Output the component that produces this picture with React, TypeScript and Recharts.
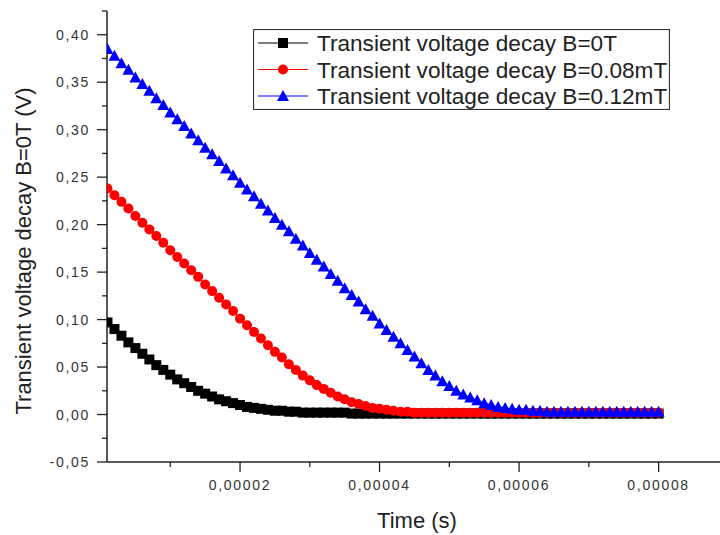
import { LineChart, Line, XAxis, YAxis, Legend } from 'recharts'

// time in microseconds
const TIME_US = [
  1, 2, 3, 4, 5, 6, 7, 8, 9, 10, 11, 12, 13, 14, 15, 16, 17, 18, 19, 20,
  21, 22, 23, 24, 25, 26, 27, 28, 29, 30, 31, 32, 33, 34, 35, 36, 37, 38, 39, 40,
  41, 42, 43, 44, 45, 46, 47, 48, 49, 50, 51, 52, 53, 54, 55, 56, 57, 58, 59, 60,
  61, 62, 63, 64, 65, 66, 67, 68, 69, 70, 71, 72, 73, 74, 75, 76, 77, 78, 79, 80,
]

const DECAY_0T = [
  0.097, 0.09, 0.083, 0.076, 0.07, 0.064, 0.058, 0.052, 0.047, 0.042,
  0.037, 0.033, 0.029, 0.025, 0.022, 0.019, 0.016, 0.014, 0.012, 0.01,
  0.008, 0.007, 0.006, 0.005, 0.004, 0.004, 0.003, 0.003, 0.002, 0.002,
  0.002, 0.002, 0.002, 0.002, 0.002, 0.001, 0.001, 0.001, 0.001, 0.001,
  0.001, 0.001, 0.001, 0.001, 0.001, 0.001, 0.001, 0.001, 0.001, 0.001,
  0.001, 0.001, 0.001, 0.001, 0.001, 0.001, 0.001, 0.001, 0.001, 0.001,
  0.001, 0.001, 0.001, 0.001, 0.001, 0.001, 0.001, 0.001, 0.001, 0.001,
  0.001, 0.001, 0.001, 0.001, 0.001, 0.001, 0.001, 0.001, 0.001, 0.001,
]

const DECAY_008 = [
  0.238, 0.231, 0.224, 0.217, 0.209, 0.202, 0.195, 0.188, 0.181, 0.173,
  0.166, 0.159, 0.152, 0.145, 0.137, 0.13, 0.123, 0.116, 0.109, 0.101,
  0.094, 0.087, 0.08, 0.073, 0.066, 0.06, 0.053, 0.047, 0.041, 0.036,
  0.031, 0.027, 0.023, 0.019, 0.016, 0.013, 0.011, 0.009, 0.007, 0.006,
  0.005, 0.004, 0.003, 0.003, 0.002, 0.002, 0.002, 0.002, 0.002, 0.002,
  0.002, 0.002, 0.002, 0.002, 0.002, 0.002, 0.002, 0.002, 0.002, 0.002,
  0.002, 0.002, 0.002, 0.002, 0.002, 0.002, 0.002, 0.002, 0.002, 0.002,
  0.002, 0.002, 0.002, 0.002, 0.002, 0.002, 0.002, 0.002, 0.002, 0.002,
]

const DECAY_012 = [
  0.385, 0.378, 0.37, 0.363, 0.355, 0.348, 0.341, 0.333, 0.326, 0.318,
  0.311, 0.304, 0.296, 0.289, 0.281, 0.274, 0.267, 0.259, 0.252, 0.244,
  0.237, 0.23, 0.222, 0.215, 0.207, 0.2, 0.193, 0.185, 0.178, 0.17,
  0.163, 0.156, 0.148, 0.141, 0.133, 0.126, 0.119, 0.111, 0.104, 0.096,
  0.089, 0.082, 0.075, 0.068, 0.061, 0.054, 0.047, 0.041, 0.035, 0.03,
  0.025, 0.021, 0.018, 0.015, 0.012, 0.01, 0.008, 0.007, 0.006, 0.005,
  0.005, 0.004, 0.004, 0.003, 0.003, 0.003, 0.003, 0.003, 0.003, 0.003,
  0.003, 0.003, 0.003, 0.003, 0.003, 0.003, 0.003, 0.003, 0.003, 0.003,
]

const X_TICKS = [10, 20, 30, 40, 50, 60, 70, 80]
const Y_TICKS = [
  -0.05, -0.025, 0, 0.025, 0.05, 0.075, 0.1, 0.125, 0.15, 0.175, 0.2,
  0.225, 0.25, 0.275, 0.3, 0.325, 0.35, 0.375, 0.4, 0.425,
]

const SERIES = [
  { key: 'b0', name: 'Transient voltage decay B=0T', color: '#000000', marker: 'square' },
  { key: 'b008', name: 'Transient voltage decay B=0.08mT', color: '#ff0000', marker: 'circle' },
  { key: 'b012', name: 'Transient voltage decay B=0.12mT', color: '#0000ff', marker: 'triangle' },
]

const data = TIME_US.map((t, i) => ({
  t,
  b0: DECAY_0T[i],
  b008: DECAY_008[i],
  b012: DECAY_012[i],
}))

const FONT = '"Liberation Sans", Arial, sans-serif'
const AXIS = '#222'
const TICK_TEXT = '#333'

function Marker({ type, cx, cy, color }: { type: string; cx: number; cy: number; color: string }) {
  if (type === 'square') {
    return <rect x={cx - 5} y={cy - 5} width={10} height={10} fill={color} />
  }
  if (type === 'circle') {
    return <circle cx={cx} cy={cy} r={5} fill={color} />
  }
  return (
    <polygon
      points={`${cx},${cy - 6} ${cx + 6},${cy + 5} ${cx - 6},${cy + 5}`}
      fill={color}
    />
  )
}

function makeDot(type: string, color: string) {
  return (props: any) => {
    const { cx, cy, index } = props
    if (cx == null || cy == null) return <g key={index} />
    return (
      <g key={`${type}-${index}`}>
        <Marker type={type} cx={cx} cy={cy} color={color} />
      </g>
    )
  }
}

function XTick(props: any) {
  const { x, y, payload } = props
  const major = payload.value % 20 === 0
  return (
    <g>
      <line x1={x} y1={y} x2={x} y2={y + (major ? 10 : 5)} stroke={AXIS} strokeWidth={1.3} />
      {major && (
        <text
          x={x}
          y={y + 28}
          textAnchor="middle"
          fill={TICK_TEXT}
          fontSize={14}
          letterSpacing={1.7}
          fontFamily={FONT}
        >
          {(payload.value / 1e6).toFixed(5).replace('.', ',')}
        </text>
      )}
    </g>
  )
}

function YTick(props: any) {
  const { x, y, payload } = props
  const major = Math.round(payload.value * 1000) % 50 === 0
  return (
    <g>
      <line x1={x - (major ? 10 : 5)} y1={y} x2={x} y2={y} stroke={AXIS} strokeWidth={1.3} />
      {major && (
        <text
          x={x - 17}
          y={y + 5}
          textAnchor="end"
          fill={TICK_TEXT}
          fontSize={14}
          letterSpacing={1.7}
          fontFamily={FONT}
        >
          {payload.value.toFixed(2).replace('.', ',')}
        </text>
      )}
    </g>
  )
}

function LegendBox() {
  return (
    <svg width={417} height={81} style={{ display: 'block' }}>
      <rect x={0.5} y={0.5} width={416} height={80} fill="#fff" stroke="#333" strokeWidth={1.2} />
      {SERIES.map((s, i) => {
        const cy = 14 + i * 26.5
        return (
          <g key={s.key}>
            <line x1={5} y1={cy} x2={55} y2={cy} stroke={s.color} strokeWidth={1.2} />
            <Marker type={s.marker} cx={30} cy={cy} color={s.color} />
            <text x={64} y={cy + 8} fontSize={22.6} fill="#222" fontFamily={FONT}>
              {s.name}
            </text>
          </g>
        )
      })}
    </svg>
  )
}

const yTitle = () => (
  <text
    x={0}
    y={0}
    transform="translate(31, 251) rotate(-90)"
    textAnchor="middle"
    fontSize={22}
    fill="#222"
    fontFamily={FONT}
  >
    Transient voltage decay B=0T (V)
  </text>
)

const xTitle = () => (
  <text x={417} y={528} textAnchor="middle" fontSize={22} fill="#222" fontFamily={FONT}>
    Time (s)
  </text>
)

export default function App() {
  return (
    <div style={{ position: 'absolute', left: 0, top: 0, width: 720, height: 535, background: '#fff' }}>
      <LineChart width={720} height={535} data={data} margin={{ top: 11, right: 0, bottom: 0, left: 0 }}>
        <XAxis
          type="number"
          dataKey="t"
          domain={[0.93, 88.8]}
          allowDataOverflow
          ticks={X_TICKS}
          interval={0}
          tick={<XTick />}
          tickLine={false}
          tickSize={0}
          tickMargin={0}
          height={73}
          axisLine={{ stroke: AXIS, strokeWidth: 1.5 }}
          label={{ content: xTitle }}
        />
        <YAxis
          type="number"
          domain={[-0.05, 0.425]}
          allowDataOverflow
          ticks={Y_TICKS}
          interval={0}
          tick={<YTick />}
          tickLine={false}
          tickSize={0}
          tickMargin={0}
          width={107}
          axisLine={{ stroke: AXIS, strokeWidth: 1.5 }}
          label={{ content: yTitle }}
        />
        <Legend
          layout="vertical"
          align="center"
          verticalAlign="middle"
          wrapperStyle={{ top: 29, left: 253, width: 417, height: 81 }}
          content={() => <LegendBox />}
        />
        {SERIES.map((s) => (
          <Line
            key={s.key}
            type="linear"
            dataKey={s.key}
            name={s.name}
            stroke={s.color}
            strokeWidth={1}
            dot={makeDot(s.marker, s.color)}
            activeDot={false}
            isAnimationActive={false}
          />
        ))}
      </LineChart>
    </div>
  )
}
